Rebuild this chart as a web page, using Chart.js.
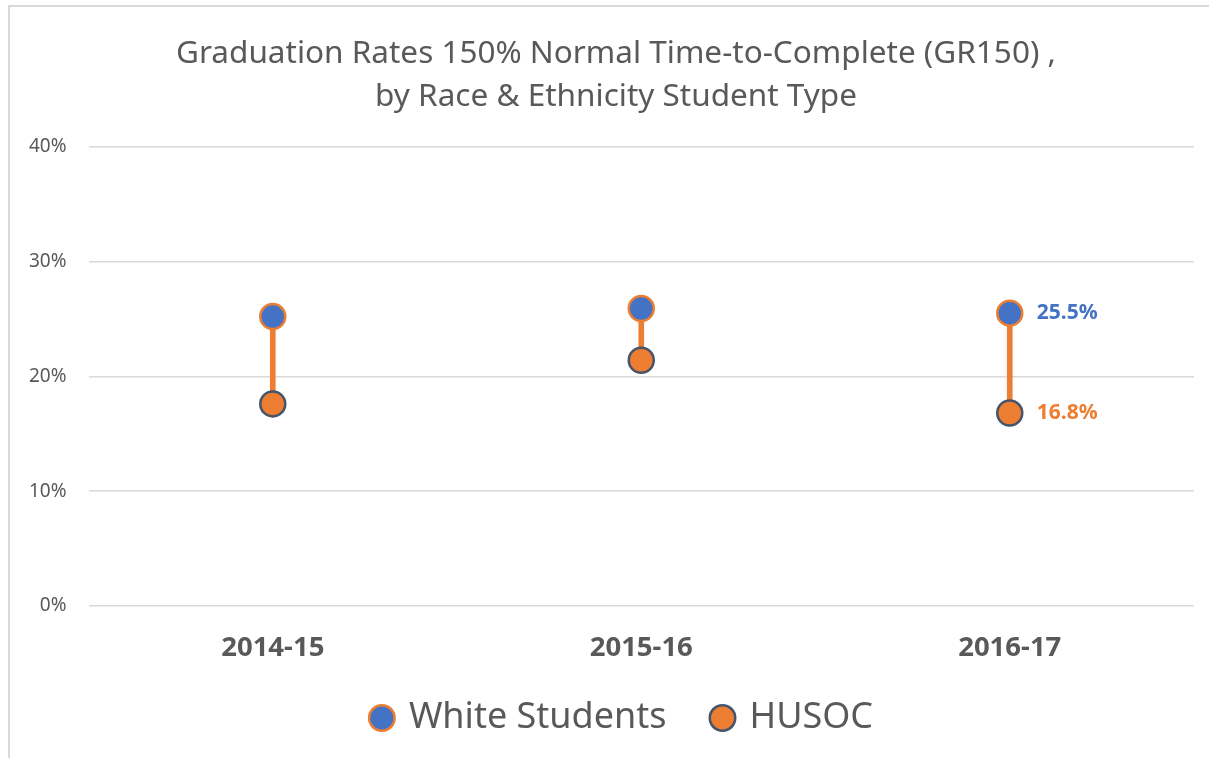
<!DOCTYPE html>
<html>
<head>
<meta charset="utf-8">
<script src="https://cdn.jsdelivr.net/npm/chart.js@4.4.1/dist/chart.umd.min.js"></script>
<style>
  html, body { margin: 0; padding: 0; background: #ffffff; overflow: hidden; width: 1209px; height: 758px; }
  #frame { position: absolute; left: 8px; top: 5px; width: 1201px; height: 753px;
           border-top: 2px solid #d9d9d9; border-left: 2px solid #d9d9d9; box-sizing: border-box; }
  #wrap { position: absolute; left: 0; top: 0; width: 1209px; height: 758px; overflow: hidden; }
</style>
</head>
<body>
<div id="frame"></div>
<div id="wrap"><canvas id="c" width="1209" height="758"></canvas></div>
<script>
const categories = ['2014-15', '2015-16', '2016-17'];
const whiteStudents = [25.2, 25.9, 25.5];
const husoc = [17.6, 21.4, 16.8];
const yTicks = [0, 10, 20, 30, 40];
const labelledIndex = 2;

const BLUE = '#4472C4';
const ORANGE = '#ED7D31';
const DARK = '#44546A';
const TEXT = '#595959';
const FONT = "'Noto Sans', 'Open Sans', sans-serif";

const connectorData = categories.map((_, i) => [husoc[i], whiteStudents[i]]);

const valueLabels = {
  id: 'valueLabels',
  afterDatasetsDraw(chart) {
    const ctx = chart.ctx;
    ctx.save();
    ctx.font = 'bold 21px ' + FONT;
    ctx.textBaseline = 'middle';
    ctx.textAlign = 'left';
    [0, 1].forEach(di => {
      const meta = chart.getDatasetMeta(di);
      const el = meta.data[labelledIndex];
      const v = chart.data.datasets[di].data[labelledIndex];
      ctx.fillStyle = di === 0 ? BLUE : ORANGE;
      ctx.fillText(v.toFixed(1) + '%', el.x + 27, el.y);
    });
    ctx.restore();
  }
};

// nudge title and legend boxes to match the reference placement
const boxShift = {
  id: 'boxShift',
  afterLayout(chart) {
    if (chart.titleBlock) { chart.titleBlock.left += 15; chart.titleBlock.right += 15; }
    if (chart.legend) {
      chart.legend.left += 22; chart.legend.right += 22;
      chart.legend.top -= 12; chart.legend.bottom -= 12;
    }
  }
};

new Chart(document.getElementById('c'), {
  data: {
    labels: categories,
    datasets: [
      {
        type: 'line', label: 'White Students', data: whiteStudents, showLine: false,
        backgroundColor: BLUE, borderColor: ORANGE,
        pointBackgroundColor: BLUE, pointBorderColor: ORANGE,
        pointRadius: 12.5, pointHoverRadius: 12.5, pointBorderWidth: 2.5, pointStyle: 'circle'
      },
      {
        type: 'line', label: 'HUSOC', data: husoc, showLine: false,
        backgroundColor: ORANGE, borderColor: DARK,
        pointBackgroundColor: ORANGE, pointBorderColor: DARK,
        pointRadius: 12.5, pointHoverRadius: 12.5, pointBorderWidth: 2.5, pointStyle: 'circle'
      },
      {
        type: 'bar', label: 'connector', data: connectorData,
        backgroundColor: ORANGE, borderWidth: 0, barThickness: 5
      }
    ]
  },
  options: {
    responsive: false,
    animation: false,
    layout: { padding: { left: 7, right: 14, top: 32, bottom: 0 } },
    plugins: {
      title: {
        display: true,
        text: ['Graduation Rates 150% Normal Time-to-Complete (GR150) ,', 'by Race & Ethnicity Student Type'],
        color: TEXT,
        font: { family: FONT, size: 31.5, weight: 'normal', lineHeight: 1.375 },
        padding: { top: 0, bottom: 28 }
      },
      legend: {
        position: 'bottom',
        labels: {
          filter: item => item.text !== 'connector',
          usePointStyle: true,
          boxWidth: 18, boxHeight: 18,
          color: TEXT,
          font: { family: FONT, size: 36 },
          padding: 47
        }
      },
      tooltip: { enabled: false }
    },
    scales: {
      x: {
        type: 'category',
        offset: true,
        grid: { display: false },
        border: { display: false },
        ticks: { color: TEXT, font: { family: FONT, size: 27.5, weight: 'bold' }, padding: 17.5 },
        afterFit: s => { s.height = 59; }
      },
      y: {
        min: yTicks[0], max: yTicks[yTicks.length - 1],
        afterBuildTicks: axis => { axis.ticks = yTicks.map(v => ({ value: v })); },
        grid: { color: '#d9d9d9', lineWidth: 1.5, drawTicks: false },
        border: { display: false },
        ticks: { color: TEXT, font: { family: FONT, size: 19 }, padding: 22, callback: v => v + '%' }
      }
    }
  },
  plugins: [valueLabels, boxShift]
});
</script>
</body>
</html>
